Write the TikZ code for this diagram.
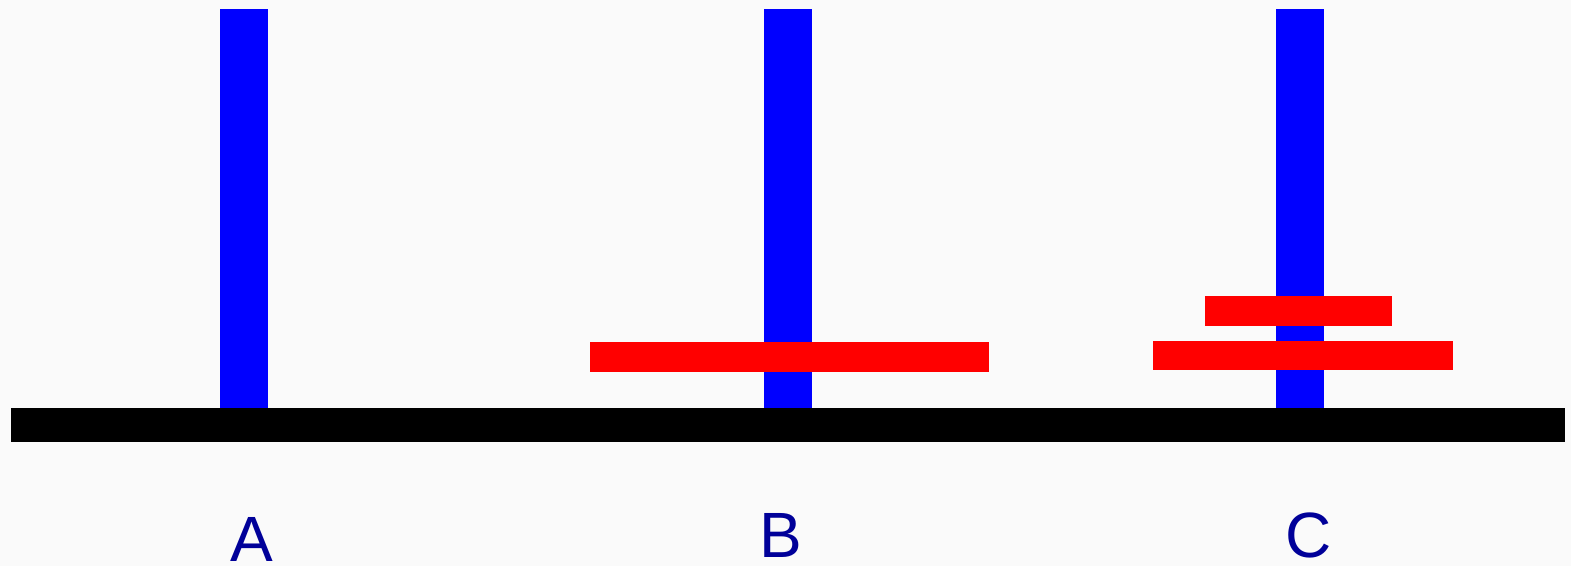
\documentclass[tikz,border=0pt]{standalone}
\usepackage{fontspec}
\setmainfont{Liberation Sans}
\definecolor{bg}{RGB}{250,250,250}
\definecolor{rod}{RGB}{0,0,255}
\definecolor{disk}{RGB}{255,0,0}
\definecolor{lbl}{RGB}{0,0,153}
\tikzset{
  rodfill/.style={fill=rod},
  diskfill/.style={fill=disk},
  basefill/.style={fill=black},
  pegname/.style={anchor=base,inner sep=0pt,text=lbl,font=\fontsize{64}{64}\selectfont}
}
\begin{document}
\begin{tikzpicture}[x=1pt,y=-1pt]
\fill[bg] (0,0) rectangle (1571,566);
\useasboundingbox (0,0) rectangle (1571,566);
% rods
\fill[rodfill] (220,9) rectangle (268,409);
\fill[rodfill] (764,9) rectangle (811.5,409);
\fill[rodfill] (1276,9) rectangle (1324,409);
% base
\fill[basefill] (11,408) rectangle (1564.5,441.5);
% disks
\fill[diskfill] (590,342) rectangle (989,371.5);
\fill[diskfill] (1204.5,296) rectangle (1391.5,325.5);
\fill[diskfill] (1152.5,340.5) rectangle (1453,369.5);
% labels
\node[pegname] (la) at (251.7,561) {A};
\node[pegname] (lb) at (780.5,557) {B};
\node[pegname] (lc) at (1308.5,557) {C};
\end{tikzpicture}
\end{document}
